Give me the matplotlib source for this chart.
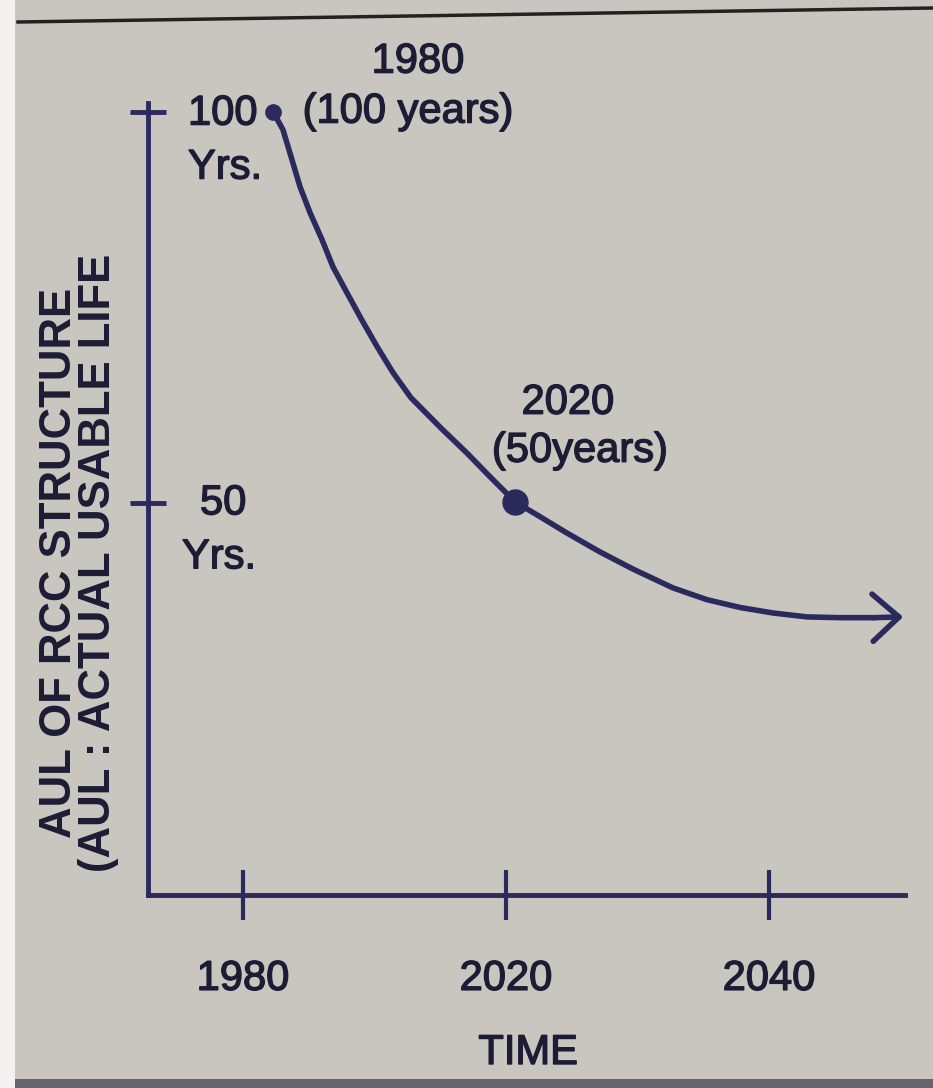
import matplotlib.pyplot as plt
import matplotlib.patheffects as pe
from matplotlib.lines import Line2D
from matplotlib.patches import Rectangle

# AUL curve (x in tick units: 0 = 1980, 1 = 2020, 2 = 2040)
curve_x = [0.114, 0.152, 0.186, 0.217, 0.255, 0.300, 0.342, 0.395, 0.452, 0.510, 0.570, 0.638,
           0.756, 0.852, 0.939, 1.034, 1.129, 1.232, 1.357, 1.483, 1.635, 1.764, 1.890,
           2.015, 2.144, 2.270, 2.395, 2.510]
curve_y = [100.0, 97.7, 93.9, 90.4, 87.1, 83.7, 80.2, 76.9, 73.4, 70.0, 66.7, 63.5,
           59.5, 56.4, 53.4, 50.2, 48.3, 46.2, 43.8, 41.6, 39.2, 37.7, 36.7,
           36.0, 35.5, 35.4, 35.4, 35.5]

# marked points
mark_x = [0.114, 1.034]
mark_y = [100.0, 50.2]
mark_year = ["1980", "2020"]
mark_life = ["(100 years)", "(50years)"]

time_ticks = [0, 1, 2]
time_labels = ["1980", "2020", "2040"]
life_ticks = [50, 100]
life_labels = ["50", "100"]

W, H = 933, 1088
bg = "#c9c6c0"
ink = "#2a2a5c"
txt = "#1c1c34"
font = ["Liberation Sans", "DejaVu Sans"]
heavy = [pe.withStroke(linewidth=1.0, foreground=txt)]
tstyle = dict(fontfamily=font, fontsize=30, color=txt, path_effects=heavy)

fig = plt.figure(figsize=(W / 100, H / 100), dpi=100, facecolor=bg)

# scan edges
fig.add_artist(Rectangle((0, 0), 15 / W, 1, transform=fig.transFigure,
                         facecolor="#f2f1ef", edgecolor="none"))
fig.add_artist(Line2D([18 / W, 1], [1 - 22 / H, 1 - 8 / H], transform=fig.transFigure,
                      color="#222222", lw=2.5))
fig.add_artist(Rectangle((15 / W, 0), 1, 9 / H, transform=fig.transFigure,
                         facecolor="#66646a", edgecolor="none"))

ax = fig.add_axes([148 / W, (H - 895) / H, (905 - 148) / W, (895 - 103) / H])
ax.patch.set_alpha(0)
ax.set_xlim(-0.361, 2.517)
ax.set_ylim(0, 101.1)
for s in ["top", "right"]:
    ax.spines[s].set_visible(False)
for s in ["left", "bottom"]:
    ax.spines[s].set_color(ink)
    ax.spines[s].set_linewidth(3.5)

ax.set_xticks(time_ticks)
ax.set_xticklabels(time_labels, **tstyle)
ax.tick_params(axis="x", direction="inout", length=36, width=3, color=ink, pad=28)
ax.set_yticks(life_ticks)
ax.set_yticklabels([])
ax.tick_params(axis="y", direction="inout", length=26, width=3.5, color=ink)

# y tick labels sit to the right of the axis
y_lab = [(life_labels[1], life_ticks[1], (40, -2)), ("Yrs.", life_ticks[1], (40, -56)),
         (life_labels[0], life_ticks[0], (52, 0)), ("Yrs.", life_ticks[0], (34, -54))]
for s, yv, off in y_lab:
    ax.annotate(s, xy=(-0.361, yv), xytext=off, textcoords="offset pixels",
                ha="left", va="center", annotation_clip=False, **tstyle)

# curve with open arrow head
ax.plot(curve_x[:-1], curve_y[:-1], color=ink, lw=4, solid_capstyle="round",
        solid_joinstyle="round", clip_on=False)
ax.annotate("", xy=(curve_x[-1], curve_y[-1]), xytext=(curve_x[-2], curve_y[-2]),
            arrowprops=dict(arrowstyle="->,head_length=19,head_width=17", mutation_scale=1,
                            color=ink, lw=4, shrinkA=0, shrinkB=0),
            annotation_clip=False)

ax.plot(mark_x[0], mark_y[0], "o", color=ink, ms=11, clip_on=False)
ax.plot(mark_x[1], mark_y[1], "o", color=ink, ms=18, clip_on=False)

year_off = [(145, 50), (53, 99)]
life_off = [(135, 0), (65, 51)]
for i in range(len(mark_x)):
    ax.annotate(mark_year[i], xy=(mark_x[i], mark_y[i]), xytext=year_off[i], textcoords="offset pixels",
                ha="center", va="center", **tstyle)
    ax.annotate(mark_life[i], xy=(mark_x[i], mark_y[i]), xytext=life_off[i], textcoords="offset pixels",
                ha="center", va="center", **tstyle)

ax.set_xlabel("TIME", fontfamily=font, fontsize=30, color=txt, path_effects=heavy)
ax.xaxis.set_label_coords(0.502, -0.1995)
ax.xaxis.label.set_va("center")

ax.set_ylabel("AUL OF RCC STRUCTURE\n(AUL : ACTUAL USABLE LIFE", fontfamily=font,
              fontweight="bold", fontsize=31.5, color=txt, linespacing=0.95)
ax.yaxis.set_label_coords(-0.091, 0.419)
ax.yaxis.label.set_va("center")
ax.yaxis.label.set_ha("center")

fig.savefig("out.png", dpi=100, facecolor=bg)
